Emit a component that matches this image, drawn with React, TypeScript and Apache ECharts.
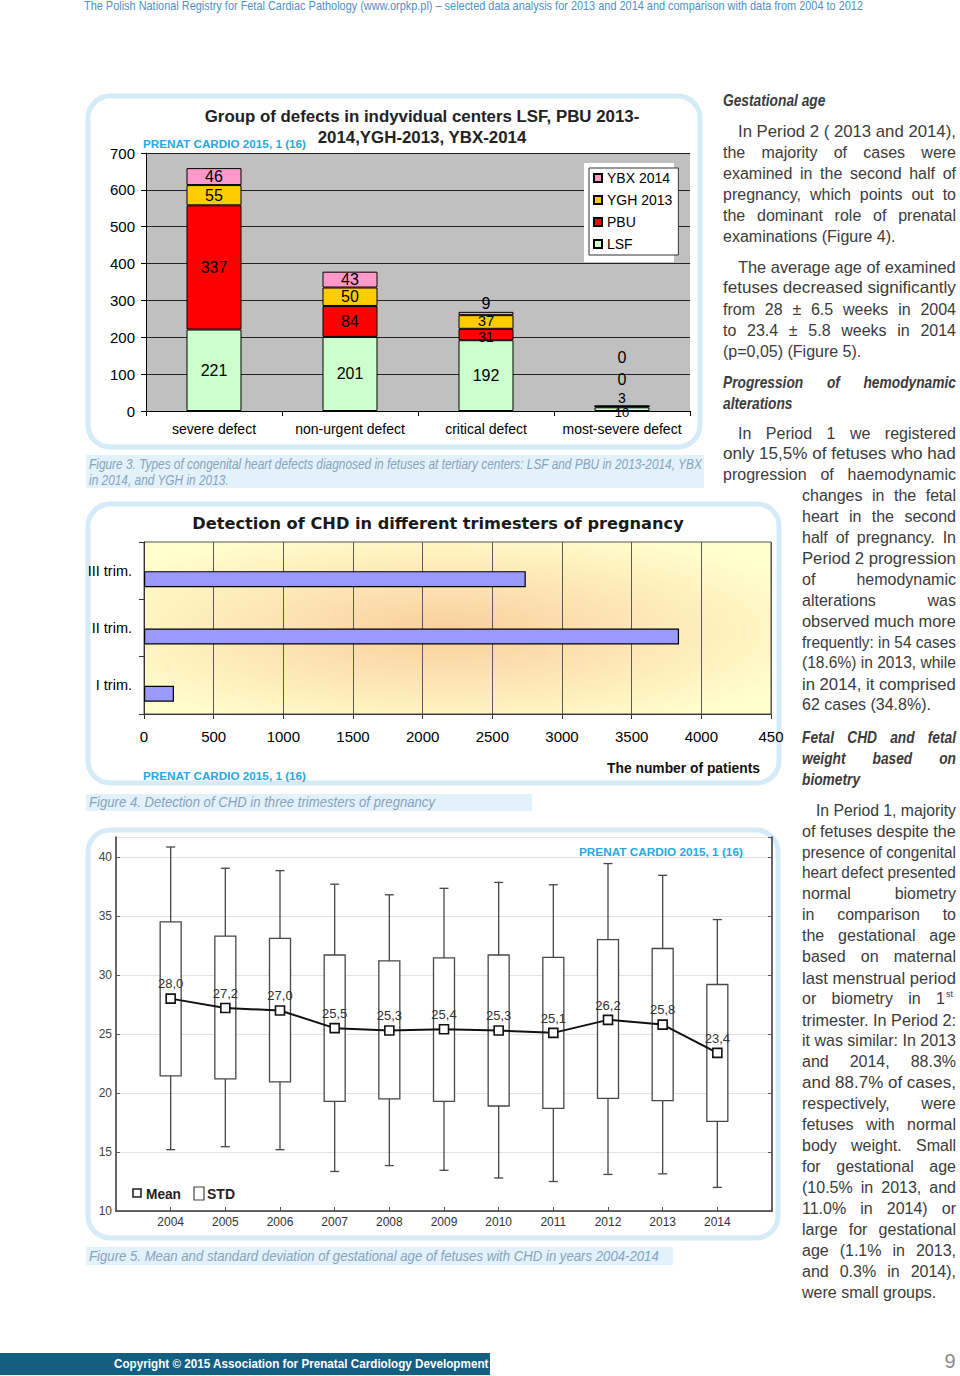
import React, { useEffect, useRef } from 'react';
import * as echarts from 'echarts';

const SANS = "'Liberation Sans',Arial,Helvetica,sans-serif";
const VERD = "'DejaVu Sans',Verdana,sans-serif";

// ---------- Figure 3 data ----------
const defectCategories = ['severe defect', 'non-urgent defect', 'critical defect', 'most-severe defect'];
const lsfValues = [221, 201, 192, 10];
const pbuValues = [337, 84, 31, 3];
const yghValues = [55, 50, 37, 0];
const ybxValues = [46, 43, 9, 0];
const fig3Ticks = { min: 0, max: 700, step: 100 };

// ---------- Figure 4 data ----------
const trimesters = ['I trim.', 'II trim.', 'III trim.'];
const trimesterPatients = [215, 3840, 2740];
const fig4Ticks = { min: 0, max: 4500, step: 500 };

// ---------- Figure 5 data ----------
const years = [2004, 2005, 2006, 2007, 2008, 2009, 2010, 2011, 2012, 2013, 2014];
const meanAge = [28.0, 27.2, 27.0, 25.5, 25.3, 25.4, 25.3, 25.1, 26.2, 25.8, 23.4];
const stdHigh = [34.5, 33.3, 33.1, 31.7, 31.2, 31.45, 31.7, 31.5, 33.0, 32.25, 29.2];
const stdLow = [21.45, 21.2, 20.95, 19.3, 19.5, 19.3, 18.9, 18.7, 19.55, 19.35, 17.6];
const whiskerHigh = [40.85, 39.05, 38.85, 37.7, 36.8, 37.35, 37.85, 37.65, 39.45, 38.45, 34.7];
const whiskerLow = [15.2, 15.45, 15.2, 13.35, 13.85, 13.45, 12.8, 12.5, 13.1, 13.15, 12.0];

// ---------- Page texts ----------
const headerText = 'The Polish National Registry for Fetal Cardiac Pathology (www.orpkp.pl) \u2013 selected data analysis for 2013 and 2014 and comparison with data from 2004 to 2012';
const sourceText = 'PRENAT CARDIO 2015, 1 (16)';
const fig3Title = ['Group of defects in indyvidual centers LSF, PBU 2013-', '2014,YGH-2013, YBX-2014'];
const fig3Caption = ['Figure 3. Types of congenital heart defects diagnosed in fetuses at tertiary centers: LSF and PBU in 2013-2014, YBX', 'in 2014, and YGH in 2013.'];
const fig4Title = 'Detection of CHD in different trimesters of pregnancy';
const fig4AxisName = 'The number of patients';
const fig4Caption = 'Figure 4. Detection of CHD in three trimesters of pregnancy';
const fig5Caption = 'Figure 5. Mean and standard deviation of gestational age of fetuses with CHD in years 2004-2014';
const footerText = 'Copyright \u00a9 2015 Association for Prenatal Cardiology Development';

const para1 = ['In Period 2 ( 2013 and 2014),', 'the majority of cases were', 'examined in the second half of', 'pregnancy, which points out to', 'the dominant role of prenatal', 'examinations (Figure 4).'];
const para2 = ['The average age of examined', 'fetuses decreased significantly', 'from 28 \u00b1 6.5 weeks in 2004', 'to 23.4 \u00b1 5.8 weeks in 2014', '(p=0,05) (Figure 5).'];
const heading2 = ['Progression of hemodynamic', 'alterations'];
const para3 = ['In Period 1 we registered', 'only 15,5% of fetuses who had', 'progression of haemodynamic', 'changes in the fetal', 'heart in the second', 'half of pregnancy. In', 'Period 2 progression', 'of hemodynamic', 'alterations was', 'observed much more', 'frequently: in 54 cases', '(18.6%) in 2013, while', 'in 2014, it comprised', '62 cases (34.8%).'];
const heading3 = ['Fetal CHD and fetal', 'weight based on', 'biometry'];
const para4 = ['In Period 1, majority', 'of fetuses despite the', 'presence of congenital', 'heart defect presented', 'normal biometry', 'in comparison to', 'the gestational age', 'based on maternal', 'last menstrual period', 'or biometry in 1', 'trimester. In Period 2:', 'it was similar: In 2013', 'and 2014, 88.3%', 'and 88.7% of cases,', 'respectively, were', 'fetuses with normal', 'body weight. Small', 'for gestational age', '(10.5% in 2013, and', '11.0% in 2014) or', 'large for gestational', 'age (1.1% in 2013,', 'and 0.3% in 2014),', 'were small groups.'];

// ---------- text helpers ----------
let measureCtx: CanvasRenderingContext2D | null = null;
function measure(text: string, font: string): number {
  if (!measureCtx) measureCtx = document.createElement('canvas').getContext('2d');
  measureCtx!.font = font;
  return measureCtx!.measureText(text).width;
}
function txt(text: string, x: number, y: number, font: string, fill: string, opts: any = {}) {
  const align = opts.align || 'left';
  return {
    type: 'text', x, y, z: opts.z ?? 20, scaleX: opts.scaleX ?? 1, silent: true,
    style: { text, font, fill, align, textAlign: align, verticalAlign: 'middle', textVerticalAlign: 'middle' },
  };
}
function fit(text: string, x: number, y: number, width: number, font: string, fill: string, align = 'left') {
  const w = measure(text, font);
  return txt(text, x, y, font, fill, { align, scaleX: width / w });
}
function justified(text: string, x: number, y: number, width: number, font: string, fill: string, justify: boolean, squeeze = 1): any[] {
  const w = measure(text, font) * squeeze;
  if (!justify) return [txt(text, x, y, font, fill, { scaleX: squeeze })];
  const ratio = width / w;
  if (ratio <= 1.07) return [txt(text, x, y, font, fill, { scaleX: squeeze * ratio })];
  const words = text.split(' ');
  const ww = words.map((t) => measure(t, font) * squeeze);
  const sum = ww.reduce((a, b) => a + b, 0);
  const gap = (width - sum) / Math.max(1, words.length - 1);
  let cx = x;
  return words.map((t, i) => {
    const el = txt(t, cx, y, font, fill, { scaleX: squeeze });
    cx += ww[i] + gap;
    return el;
  });
}

const BODY_FONT = `normal 400 16px ${SANS}`;
const HEAD_FONT = `italic bold 16px ${SANS}`;
const HEAD_SQUEEZE = 0.86;
const BODY_COLOR = '#3b3b3b';
const CAPTION_FONT = `italic normal 15px ${SANS}`;
const CAPTION_COLOR = '#86a3bb';
const CYAN = '#27a9e1';

function buildRightColumn(): any[] {
  const els: any[] = [];
  const colA = { x: 723, w: 233 };
  const colB = { x: 802, w: 154 };
  els.push(...justified('Gestational age', colA.x, 100, colA.w, HEAD_FONT, BODY_COLOR, false, HEAD_SQUEEZE));
  para1.forEach((l, i) => {
    const ind = i === 0 ? 15 : 0;
    els.push(...justified(l, colA.x + ind, 131 + 21 * i, colA.w - ind, BODY_FONT, BODY_COLOR, i < para1.length - 1));
  });
  para2.forEach((l, i) => {
    const ind = i === 0 ? 15 : 0;
    els.push(...justified(l, colA.x + ind, 267 + 21 * i, colA.w - ind, BODY_FONT, BODY_COLOR, i < para2.length - 1));
  });
  heading2.forEach((l, i) => {
    els.push(...justified(l, colA.x, 382 + 21 * i, colA.w, HEAD_FONT, BODY_COLOR, i < heading2.length - 1, HEAD_SQUEEZE));
  });
  para3.forEach((l, i) => {
    const col = i < 3 ? colA : colB;
    const ind = i === 0 ? 15 : 0;
    els.push(...justified(l, col.x + ind, 433 + 20.9 * i, col.w - ind, BODY_FONT, BODY_COLOR, i < para3.length - 1));
  });
  heading3.forEach((l, i) => {
    els.push(...justified(l, colB.x, 737 + 21 * i, colB.w, HEAD_FONT, BODY_COLOR, i < heading3.length - 1, HEAD_SQUEEZE));
  });
  para4.forEach((l, i) => {
    const ind = i === 0 ? 14 : 0;
    const y = 810 + 20.96 * i;
    if (l === 'or biometry in 1') {
      els.push(...justified(l, colB.x, y, colB.w - 11, BODY_FONT, BODY_COLOR, true));
      els.push(txt('st', 946, y - 5, `normal 400 9px ${SANS}`, BODY_COLOR));
    } else {
      els.push(...justified(l, colB.x + ind, y, colB.w - ind, BODY_FONT, BODY_COLOR, i < para4.length - 1));
    }
  });
  return els;
}

function buildGraphics(): any[] {
  const els: any[] = [];
  const panel = (x: number, y: number, w: number, h: number) => ({
    type: 'rect', z: -5, silent: true, shape: { x, y, width: w, height: h, r: 22 },
    style: { fill: 'none', stroke: '#d6ebf8', lineWidth: 5 },
  });
  const band = (x: number, y: number, w: number, h: number) => ({
    type: 'rect', z: -5, silent: true, shape: { x, y, width: w, height: h }, style: { fill: '#e3f1fb' },
  });
  // header
  els.push(fit(headerText, 84, 6, 780, `normal 400 12px ${SANS}`, '#4f90c6'));
  // panels & caption bands
  els.push(panel(88, 96, 612, 351));
  els.push(panel(88, 504, 691, 279));
  els.push(panel(88, 830, 690, 408));
  els.push(band(86, 455, 618, 33));
  els.push(band(86, 794, 446, 17));
  els.push(band(86, 1247, 587, 18));
  // Figure 3 texts
  els.push(fit(fig3Title[0], 422, 116, 435, `normal bold 17px ${SANS}`, '#222', 'center'));
  els.push(fit(fig3Title[1], 422, 137, 209, `normal bold 17px ${SANS}`, '#222', 'center'));
  els.push(fit(sourceText, 143, 144, 163, `normal bold 11.5px ${SANS}`, CYAN));
  els.push({ type: 'rect', z: 5, silent: true, shape: { x: 584, y: 163, width: 90, height: 99 }, style: { fill: '#fff' } });
  els.push(fit(fig3Caption[0], 89, 464, 614, CAPTION_FONT, CAPTION_COLOR));
  els.push(fit(fig3Caption[1], 89, 480, 140, CAPTION_FONT, CAPTION_COLOR));
  // Figure 4 texts
  els.push(fit(fig4Title, 438, 524, 492, `normal bold 16px ${VERD}`, '#1a1a1a', 'center'));
  els.push(fit(fig4AxisName, 607, 768, 153, `normal bold 15px ${SANS}`, '#111'));
  els.push(fit(sourceText, 143, 776, 163, `normal bold 11.5px ${SANS}`, CYAN));
  els.push(fit(fig4Caption, 89, 802, 346, CAPTION_FONT, CAPTION_COLOR));
  // Figure 5 texts
  els.push(fit(sourceText, 579, 852, 164, `normal bold 11.5px ${SANS}`, CYAN));
  els.push({ type: 'rect', z: 20, silent: true, shape: { x: 133, y: 1189, width: 8, height: 8 }, style: { fill: '#fff', stroke: '#222', lineWidth: 1.6 } });
  els.push(fit('Mean', 146, 1194, 35, `normal bold 14px ${SANS}`, '#222'));
  els.push({ type: 'rect', z: 20, silent: true, shape: { x: 194, y: 1187, width: 10, height: 13 }, style: { fill: '#fff', stroke: '#444', lineWidth: 1.2 } });
  els.push(fit('STD', 207, 1194, 28, `normal bold 14px ${SANS}`, '#222'));
  els.push(fit(fig5Caption, 89, 1256, 570, CAPTION_FONT, CAPTION_COLOR));
  // footer
  els.push({ type: 'rect', z: -5, silent: true, shape: { x: 0, y: 1353, width: 490, height: 22 }, style: { fill: '#145e7f' } });
  els.push(fit(footerText, 114, 1364, 375, `normal bold 13px ${SANS}`, '#ffffff'));
  els.push(txt('9', 950, 1361, `normal 400 20px ${SANS}`, '#8c8c8c', { align: 'center' }));
  els.push(...buildRightColumn());
  return els;
}

function buildOption(): any {
  const barLabel = { show: true, position: 'inside', color: '#000', fontSize: 16, fontFamily: SANS };
  const border = { borderColor: '#000', borderWidth: 1 };
  const topLabel = (offsetY: number, fontSize = 16) => ({ position: 'top', distance: 0, offset: [0, offsetY], fontSize });
  const insideLabel = (offsetY: number, fontSize: number) => ({ position: 'inside', offset: [0, offsetY], fontSize });

  return {
    animation: false,
    backgroundColor: '#ffffff',
    textStyle: { fontFamily: SANS },
    grid: [
      { left: 146, top: 153, width: 544, height: 258, show: true, backgroundColor: '#c0c0c0', borderWidth: 0 },
      {
        left: 144, top: 542, width: 627, height: 172, show: true, borderColor: '#555', borderWidth: 1,
        backgroundColor: new echarts.graphic.RadialGradient(0.48, 0.52, 0.62, [
          { offset: 0, color: '#f9cf9c' },
          { offset: 0.45, color: '#fde3b3' },
          { offset: 1, color: '#ffffcc' },
        ]),
      },
      { left: 116, top: 837, width: 656, height: 374, show: false },
    ],
    legend: [
      {
        z: 10, left: 589, top: 168, orient: 'vertical', icon: 'rect', itemWidth: 8, itemHeight: 8, itemGap: 6,
        padding: [2, 6, 3, 4], backgroundColor: '#fff', borderColor: '#333', borderWidth: 1, selectedMode: false,
        textStyle: { fontSize: 14, fontFamily: SANS, color: '#000', lineHeight: 16 },
        data: ['YBX 2014', 'YGH 2013', 'PBU', 'LSF'],
      },
    ],
    xAxis: [
      {
        gridIndex: 0, type: 'category', data: defectCategories,
        axisLine: { lineStyle: { color: '#000' } },
        axisTick: { show: true, length: 5, lineStyle: { color: '#000' } },
        axisLabel: { interval: 0, fontSize: 14, fontFamily: SANS, color: '#000', margin: 11 },
      },
      {
        gridIndex: 1, type: 'value', min: fig4Ticks.min, max: fig4Ticks.max, interval: fig4Ticks.step,
        splitLine: { show: true, lineStyle: { color: '#5a5a5a' } },
        axisLine: { show: true, lineStyle: { color: '#333' } },
        axisTick: { show: true, length: 5, lineStyle: { color: '#333' } },
        axisLabel: { fontSize: 15, fontFamily: SANS, color: '#000', margin: 15, formatter: (v: number) => (v === fig4Ticks.max ? '450' : String(v)) },
      },
      {
        gridIndex: 2, type: 'value', min: 2003, max: 2015, interval: 1,
        splitLine: { show: false },
        axisLine: { show: true, lineStyle: { color: '#333', width: 1.5 } },
        axisTick: { show: true, inside: true, length: 4, lineStyle: { color: '#555' } },
        axisLabel: { fontSize: 12, fontFamily: SANS, color: '#333', margin: 5, formatter: (v: number) => (v < years[0] || v > years[years.length - 1] ? '' : String(v)) },
      },
    ],
    yAxis: [
      {
        gridIndex: 0, type: 'value', min: fig3Ticks.min, max: fig3Ticks.max, interval: fig3Ticks.step,
        splitLine: { show: true, lineStyle: { color: '#222' } },
        axisLine: { show: true, lineStyle: { color: '#000' } },
        axisTick: { show: true, length: 5, lineStyle: { color: '#000' } },
        axisLabel: { fontSize: 15, fontFamily: SANS, color: '#000', margin: 11 },
      },
      {
        gridIndex: 1, type: 'category', data: trimesters,
        axisLine: { show: true, lineStyle: { color: '#333' } },
        axisTick: { show: true, length: 5, lineStyle: { color: '#333' } },
        axisLabel: { fontSize: 14.5, fontFamily: SANS, color: '#000', margin: 12 },
      },
      {
        gridIndex: 2, type: 'value', min: 10, max: 41.7, interval: 5,
        splitLine: { show: true, lineStyle: { color: '#e2e2e2' } },
        axisLine: { show: true, lineStyle: { color: '#333', width: 1.5 } },
        axisTick: { show: true, inside: true, length: 4, lineStyle: { color: '#555' } },
        axisLabel: { fontSize: 12, fontFamily: SANS, color: '#444', margin: 4, showMaxLabel: false },
      },
      {
        gridIndex: 2, type: 'value', position: 'right', min: 10, max: 41.7, interval: 5,
        splitLine: { show: false },
        axisLine: { show: true, lineStyle: { color: '#333', width: 1.5 } },
        axisTick: { show: true, inside: true, length: 4, lineStyle: { color: '#555' } },
        axisLabel: { show: false },
      },
    ],
    series: [
      {
        name: 'LSF', type: 'bar', stack: 'defects', xAxisIndex: 0, yAxisIndex: 0, barWidth: 55,
        itemStyle: { color: '#ccffcc', ...border }, label: barLabel,
        data: lsfValues.map((v, i) => (i === 3 ? { value: v, label: insideLabel(3, 13) } : v)),
      },
      {
        name: 'PBU', type: 'bar', stack: 'defects', xAxisIndex: 0, yAxisIndex: 0, barWidth: 55,
        itemStyle: { color: '#ff0000', ...border }, label: barLabel,
        data: pbuValues.map((v, i) => (i === 3 ? { value: v, label: topLabel(-1, 14) } : i === 2 ? { value: v, label: insideLabel(2, 14) } : v)),
      },
      {
        name: 'YGH 2013', type: 'bar', stack: 'defects', xAxisIndex: 0, yAxisIndex: 0, barWidth: 55,
        itemStyle: { color: '#ffcc00', ...border }, label: barLabel,
        data: yghValues.map((v, i) => (i === 3 ? { value: v, label: topLabel(-18) } : i === 2 ? { value: v, label: insideLabel(-1, 15) } : v)),
      },
      {
        name: 'YBX 2014', type: 'bar', stack: 'defects', xAxisIndex: 0, yAxisIndex: 0, barWidth: 55,
        itemStyle: { color: '#ff99cc', ...border }, label: barLabel,
        data: ybxValues.map((v, i) => (i === 3 ? { value: v, label: topLabel(-40) } : i === 2 ? { value: v, label: topLabel(0) } : v)),
      },
      {
        name: 'spacer', type: 'bar', xAxisIndex: 1, yAxisIndex: 1, barWidth: 16, barGap: '6%',
        data: trimesters.map(() => '-'),
      },
      {
        name: 'Patients', type: 'bar', xAxisIndex: 1, yAxisIndex: 1, barWidth: 16, barGap: '6%',
        itemStyle: { color: '#9999ff', borderColor: '#000', borderWidth: 1.2 },
        data: trimesterPatients,
      },
      {
        name: 'STD', type: 'custom', xAxisIndex: 2, yAxisIndex: 2, z: 3,
        encode: { x: 0, y: [1, 2, 3, 4] },
        data: years.map((y, i) => [y, whiskerLow[i], stdLow[i], stdHigh[i], whiskerHigh[i]]),
        renderItem: (params: any, api: any) => {
          const x = api.value(0);
          const lo = api.coord([x, api.value(1)]);
          const q1 = api.coord([x, api.value(2)]);
          const q3 = api.coord([x, api.value(3)]);
          const hi = api.coord([x, api.value(4)]);
          const bw = 21;
          const cw = 9;
          const ls = { stroke: '#474747', lineWidth: 1.3, fill: 'none' };
          return {
            type: 'group',
            children: [
              { type: 'line', shape: { x1: lo[0], y1: lo[1], x2: q1[0], y2: q1[1] }, style: ls },
              { type: 'line', shape: { x1: q3[0], y1: q3[1], x2: hi[0], y2: hi[1] }, style: ls },
              { type: 'line', shape: { x1: lo[0] - cw / 2, y1: lo[1], x2: lo[0] + cw / 2, y2: lo[1] }, style: ls },
              { type: 'line', shape: { x1: hi[0] - cw / 2, y1: hi[1], x2: hi[0] + cw / 2, y2: hi[1] }, style: ls },
              { type: 'rect', shape: { x: q3[0] - bw / 2, y: q3[1], width: bw, height: q1[1] - q3[1] }, style: { fill: '#fff', stroke: '#474747', lineWidth: 1.3 } },
            ],
          };
        },
      },
      {
        name: 'Mean', type: 'line', xAxisIndex: 2, yAxisIndex: 2, z: 6,
        data: years.map((y, i) => [y, meanAge[i]]),
        symbol: 'rect', symbolSize: 9,
        itemStyle: { color: '#fff', borderColor: '#111', borderWidth: 1.6 },
        lineStyle: { color: '#111', width: 2 },
        label: {
          show: true, position: 'top', distance: 3, fontSize: 13, fontFamily: SANS, color: '#333',
          formatter: (p: any) => p.value[1].toFixed(1).replace('.', ','),
        },
      },
    ],
    graphic: { elements: buildGraphics() },
  };
}

export default function App() {
  const ref = useRef<HTMLDivElement>(null);
  useEffect(() => {
    if (!ref.current) return;
    const chart = echarts.init(ref.current, undefined, { renderer: 'svg' });
    chart.setOption(buildOption());
    return () => chart.dispose();
  }, []);
  return <div ref={ref} style={{ position: 'absolute', left: 0, top: 0, width: 960, height: 1376, background: '#fff' }} />;
}
